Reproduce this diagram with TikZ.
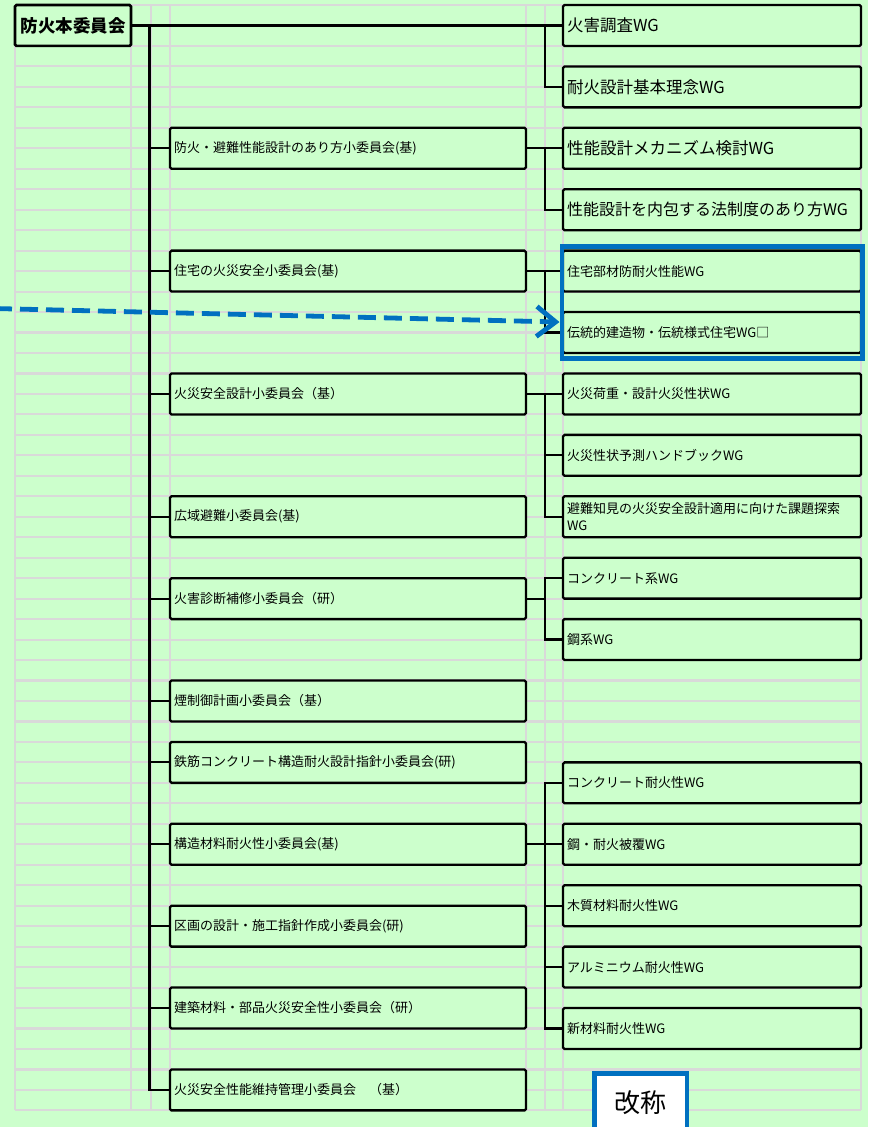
\documentclass[tikz,border=0pt]{standalone}
\usepackage{fontspec}
\newfontfamily\jpfont{Noto Sans CJK JP}
\usepackage{tikz}
\usetikzlibrary{arrows.meta, calc, positioning}

\definecolor{sheetgreen}{HTML}{CCFFCC}
\definecolor{gridgrey}{HTML}{D9D9D9}
\definecolor{frameblue}{HTML}{0070C0}

\def\rh{20.47}

\tikzset{
	sheetline/.style={draw=gridgrey,
		line width=2.1pt,
		},
	honbox/.style={rectangle,
		draw=black,
		line width=2.6pt,
		fill=sheetgreen,
		rounded corners=1.5pt,
		outer sep=0pt,
		inner sep=0pt,
		minimum width=116pt,
		minimum height=40.94pt,
		font=\jpfont\bfseries\fontsize{17.5}{20}\selectfont,
		},
	subbox/.style={rectangle,
		draw=black,
		line width=2.3pt,
		fill=sheetgreen,
		rounded corners=1.5pt,
		outer sep=0pt,
		inner xsep=4pt,
		inner ysep=0pt,
		text width=348pt,
		align=left,
		minimum height=40.94pt,
		font=\jpfont\fontsize{13}{16.5}\selectfont,
		},
	wgbox/.style={subbox,
		text width=290pt,
		},
	wgbig/.style={wgbox,
		font=\jpfont\fontsize{16.5}{19}\selectfont,
		},
	link/.style={draw=black, line width=2.2pt},
	blueframe/.style={draw=frameblue, line width=4.8pt},
	renamed/.style={draw=frameblue,
		line width=4.8pt,
		dash pattern=on 18pt off 8pt,
		-{Straight Barb[length=19pt, width=30pt]},
		},
	kaishobox/.style={rectangle,
		draw=frameblue,
		line width=4.8pt,
		fill=white,
		outer sep=0pt,
		minimum width=92.5pt,
		minimum height=58pt,
		font=\jpfont\fontsize{26}{30}\selectfont,
		},
}

\begin{document}
\begin{tikzpicture}[x=1pt, y=-1pt]

   \fill[sheetgreen] (0,0) rectangle (868,1127);
   \useasboundingbox (0,0) rectangle (868,1127);

   \foreach \k in {0,...,54}
      \draw[sheetline] (15,5+\k*\rh) -- (861,5+\k*\rh);
   \foreach \x in {15,131,151,170,526,545,563,861}
      \draw[sheetline] (\x,5) -- (\x,5+54*\rh);

   \node[honbox, anchor=north west] (hon) at (15,5) {防火本委員会};

   \node[subbox, anchor=north west] (arikata) at (170,5+6*\rh) {防火・避難性能設計のあり方小委員会(基)};
   \node[subbox, anchor=north west] (jutaku) at (170,5+12*\rh) {住宅の火災安全小委員会(基)};
   \node[subbox, anchor=north west] (sekkei) at (170,5+18*\rh) {火災安全設計小委員会（基）};
   \node[subbox, anchor=north west] (hinan) at (170,5+24*\rh) {広域避難小委員会(基)};
   \node[subbox, anchor=north west] (shindan) at (170,5+28*\rh) {火害診断補修小委員会（研）};
   \node[subbox, anchor=north west] (kemuri) at (170,5+33*\rh) {煙制御計画小委員会（基）};
   \node[subbox, anchor=north west] (rc) at (170,5+36*\rh) {鉄筋コンクリート構造耐火設計指針小委員会(研)};
   \node[subbox, anchor=north west] (kozo) at (170,5+40*\rh) {構造材料耐火性小委員会(基)};
   \node[subbox, anchor=north west] (kukaku) at (170,5+44*\rh) {区画の設計・施工指針作成小委員会(研)};
   \node[subbox, anchor=north west] (zairyo) at (170,5+48*\rh) {建築材料・部品火災安全性小委員会（研）};
   \node[subbox, anchor=north west] (iji) at (170,5+52*\rh) {火災安全性能維持管理小委員会　（基）};

   \node[wgbig, anchor=north west] (kagai) at (563,5) {火害調査WG};
   \node[wgbig, anchor=north west] (rinen) at (563,5+3*\rh) {耐火設計基本理念WG};
   \node[wgbig, anchor=north west] (mekanizumu) at (563,5+6*\rh) {性能設計メカニズム検討WG};
   \node[wgbig, anchor=north west, font=\jpfont\fontsize{16}{19}\selectfont] (hoseido) at (563,5+9*\rh) {性能設計を内包する法制度のあり方WG};
   \node[wgbox, anchor=north west] (buzai) at (563,5+12*\rh) {住宅部材防耐火性能WG};
   \node[wgbox, anchor=north west] (dento) at (563,5+15*\rh) {伝統的建造物・伝統様式住宅WG□};
   \node[wgbox, anchor=north west] (kajuu) at (563,5+18*\rh) {火災荷重・設計火災性状WG};
   \node[wgbox, anchor=north west] (handbook) at (563,5+21*\rh) {火災性状予測ハンドブックWG};
   \node[wgbox, anchor=north west] (tansaku) at (563,5+24*\rh) {避難知見の火災安全設計適用に向けた課題探索\\WG};
   \node[wgbox, anchor=north west] (concrete) at (563,5+27*\rh) {コンクリート系WG};
   \node[wgbox, anchor=north west] (kou) at (563,5+30*\rh) {鋼系WG};
   \node[wgbox, anchor=north west] (concretetaika) at (563,5+37*\rh) {コンクリート耐火性WG};
   \node[wgbox, anchor=north west] (koutaika) at (563,5+40*\rh) {鋼・耐火被覆WG};
   \node[wgbox, anchor=north west] (mokushitsu) at (563,5+43*\rh) {木質材料耐火性WG};
   \node[wgbox, anchor=north west] (alumi) at (563,5+46*\rh) {アルミニウム耐火性WG};
   \node[wgbox, anchor=north west] (shinzairyo) at (563,5+49*\rh) {新材料耐火性WG};

   \coordinate (trunk) at ($(hon.east)+(18.5,0)$);
   \draw[link] (hon.east) -- (kagai.west);
   \draw[link] (trunk) |- (iji.west);
   \foreach \s in {arikata,jutaku,sekkei,hinan,shindan,kemuri,rc,kozo,kukaku,zairyo}
      \draw[link] (trunk |- \s.west) -- (\s.west);

   \draw[link] ($(kagai.west)+(-18,0)$) |- (rinen.west);
   \draw[link] (arikata.east) -- (mekanizumu.west);
   \draw[link] ($(mekanizumu.west)+(-18,0)$) |- (hoseido.west);
   \draw[link] (jutaku.east) -- (buzai.west);
   \draw[link] ($(buzai.west)+(-18,0)$) |- (dento.west);
   \draw[link] (sekkei.east) -- (kajuu.west);
   \draw[link] ($(kajuu.west)+(-18,0)$) |- (tansaku.west);
   \draw[link] (handbook.west) -- ++(-18,0);
   \draw[link] (shindan.east) -- ++(19,0);
   \draw[link] (concrete.west) -- ++(-18,0) |- (kou.west);
   \draw[link] (kozo.east) -- (koutaika.west);
   \draw[link] (concretetaika.west) -- ++(-18,0) |- (shinzairyo.west);
   \foreach \w in {mokushitsu,alumi}
      \draw[link] (\w.west) -- ++(-18,0);

   \draw[blueframe] ($(buzai.north west)+(-1,-4)$) rectangle ($(dento.south east)+(1.5,5.5)$);
   \coordinate (src) at (-6,308.5);
   \draw[renamed] (src) -- ($(dento.west)+(-3.5,-10.5)$);

   \node[kaishobox, anchor=north] (kaisho) at (640.75,1073.5) {改称};
\end{tikzpicture}
\end{document}
